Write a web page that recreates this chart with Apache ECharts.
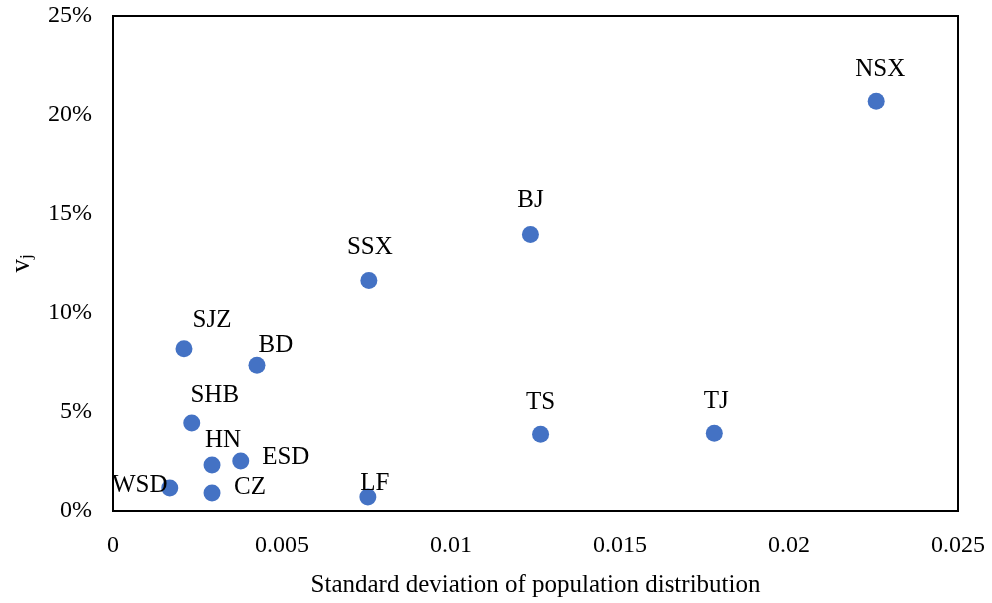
<!DOCTYPE html>
<html><head><meta charset="utf-8">
<script src="https://cdn.jsdelivr.net/npm/echarts@6/dist/echarts.min.js"></script>
<style>html,body{margin:0;padding:0;background:#fff}#c{width:992px;height:603px}</style>
</head><body><div id="c"></div>
<script>
const names = ['NSX','BJ','SSX','SJZ','BD','SHB','HN','ESD','WSD','CZ','LF','TS','TJ'];
const stdDev = [0.02258,0.01235,0.00757,0.0021,0.00426,0.00233,0.00293,0.00378,0.00168,0.00293,0.00754,0.01265,0.01779];
const vj = [20.7,13.96,11.64,8.2,7.36,4.44,2.32,2.52,1.16,0.91,0.71,3.88,3.93];
const xTicks = ['0','0.005','0.01','0.015','0.02','0.025'];
const yTicks = ['0%','5%','10%','15%','20%','25%'];

const labelOffsets = {
  NSX:[4,-32], BJ:[0,-34], SSX:[1,-33], SJZ:[28,-28], BD:[19,-20], SHB:[23,-28],
  HN:[11,-25], ESD:[45,-4], WSD:[-30,-3], CZ:[38,-6], LF:[7,-14], TS:[0,-32], TJ:[2,-32]
};
const font = '"Liberation Serif","Times New Roman",serif';
const data = names.map((n,i)=>({
  name:n, value:[stdDev[i], vj[i]],
  label:{offset:labelOffsets[n]}
}));
const chart = echarts.init(document.getElementById('c'));
chart.setOption({
  animation:false,
  backgroundColor:'#fff',
  grid:{left:112,right:34,top:16,bottom:92,show:true,borderColor:'#000',borderWidth:2,backgroundColor:'transparent'},
  xAxis:{type:'value',min:0,max:0.025,interval:0.005,
    name:'Standard deviation of population distribution',nameLocation:'middle',nameGap:62,
    nameTextStyle:{fontFamily:font,fontSize:25,color:'#000'},
    axisLine:{show:true,lineStyle:{color:'#000',width:2}},axisTick:{show:false},splitLine:{show:false},
    axisLabel:{margin:23,fontFamily:font,fontSize:24,color:'#000',
      formatter:(v)=>xTicks[Math.round(v/0.005)]}},
  yAxis:{type:'value',min:0,max:25,interval:5,
    name:'{a|v}{b|j}',nameLocation:'middle',nameGap:78,nameRotate:90,
    nameTextStyle:{rich:{a:{fontFamily:font,fontSize:27,color:'#000'},b:{fontFamily:font,fontSize:17,color:'#000',padding:[0,0,-10,0]}}},
    axisLine:{show:true,lineStyle:{color:'#000',width:2}},axisTick:{show:false},splitLine:{show:false},
    axisLabel:{margin:21,fontFamily:font,fontSize:24,color:'#000',padding:[5,0,0,0],
      formatter:(v)=>yTicks[Math.round(v/5)]}},
  series:[{type:'scatter',symbolSize:17,itemStyle:{color:'#4472C4',opacity:1},
    label:{show:true,position:'inside',align:'center',verticalAlign:'middle',formatter:'{b}',
      fontFamily:font,fontSize:25,color:'#000'},
    data:data}]
});
</script></body></html>
